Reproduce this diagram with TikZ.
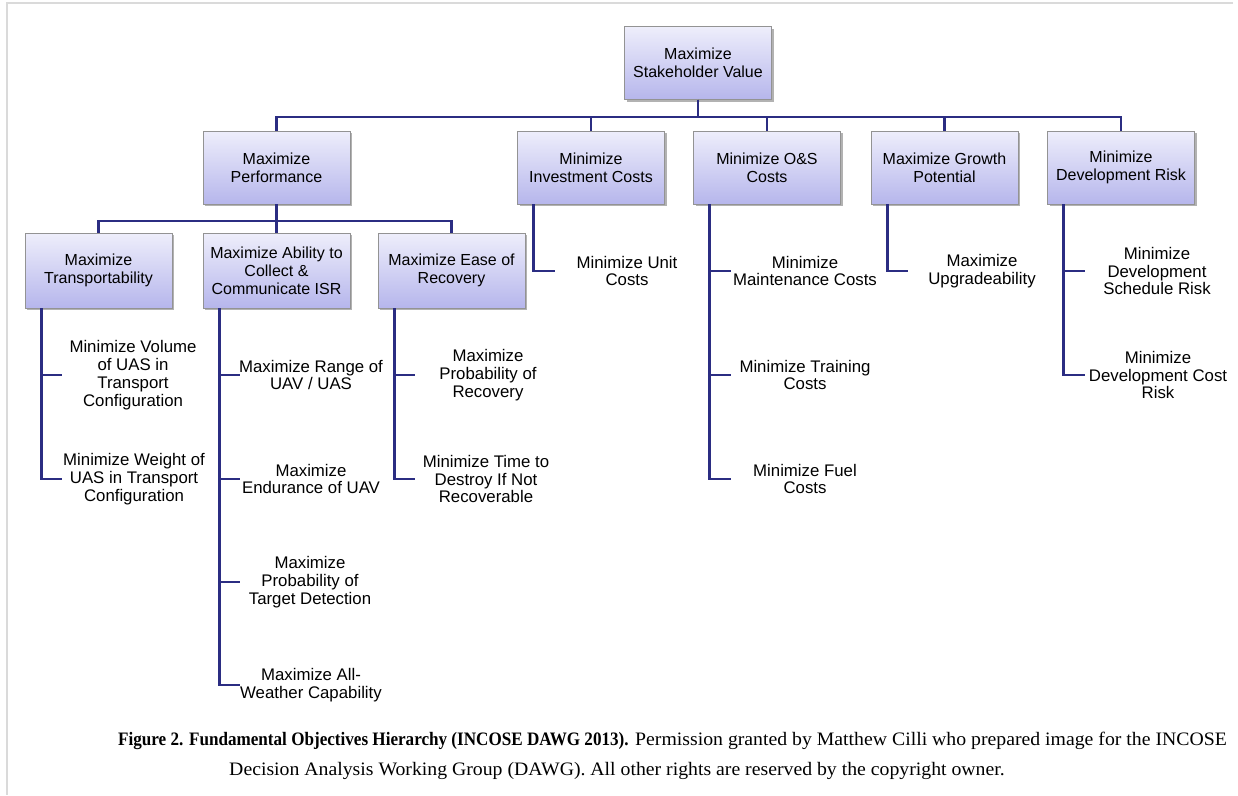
\documentclass[tikz,border=0pt]{standalone}
\usepackage{fontspec}
\setmainfont{Liberation Sans}
\newfontfamily\capfont[FakeStretch=1.04]{Liberation Serif}
\newfontfamily\capboldfont[FakeStretch=0.9]{Liberation Serif}
\usetikzlibrary{shadows}
\definecolor{linkblue}{RGB}{43,45,130}
\definecolor{boxtop}{RGB}{238,238,251}
\definecolor{boxbot}{RGB}{182,182,236}
\definecolor{framegray}{RGB}{218,218,218}

\begin{document}
\begin{tikzpicture}[x=1pt,y=-1pt,
  obj/.style={draw=gray!85, line width=0.8pt, top color=boxtop, bottom color=boxbot,
    minimum width=147pt, minimum height=73pt, align=center, inner sep=2pt,
    font=\fontsize{16}{18}\selectfont,
    drop shadow={shadow xshift=2pt,shadow yshift=-2pt,opacity=0.3,fill=black}},
  leaf/.style={align=center, inner sep=0pt, font=\fontsize{16.8}{17.8}\selectfont},
  link/.style={draw=linkblue, line width=2.8pt},
  captext/.style={inner sep=0pt, font=\capfont\fontsize{19}{22}\selectfont}]
  \useasboundingbox (0,0) rectangle (1238,795);
  \draw[framegray, line width=1.5pt] (1233,3) -- (7,3) -- (7,795);

  \coordinate (bar1) at (0,117);
  \coordinate (bar2) at (0,221);

  \node[obj] (top)  at (698,63)      {Maximize\\Stakeholder Value};
  \node[obj] (perf) at (276.5,167.5) {Maximize\\Performance};
  \node[obj] (inv)  at (591,167.5)   {Minimize\\Investment Costs};
  \node[obj] (ons)  at (767,167.5)   {Minimize O\&S\\Costs};
  \node[obj] (grow) at (944.5,167.5) {Maximize Growth\\Potential};
  \node[obj] (risk) at (1121,167.5)  {Minimize\\Development Risk};

  \node[obj,minimum height=75pt] (trans) at (98.5,270.5)  {Maximize\\Transportability};
  \node[obj,minimum height=75pt] (isr)   at (276.5,270.5) {Maximize Ability to\\Collect \&\\Communicate ISR};
  \node[obj,minimum height=75pt] (recov) at (451.5,270.5) {Maximize Ease of\\Recovery};

  \node[leaf] (vol)     at (133,375)  {Minimize Volume\\of UAS in\\Transport\\Configuration};
  \node[leaf] (wgt)     at (134,479)  {Minimize Weight of\\UAS in Transport\\Configuration};
  \node[leaf] (range)   at (311,375)  {Maximize Range of\\UAV / UAS};
  \node[leaf] (endur)   at (311,479)  {Maximize\\Endurance of UAV};
  \node[leaf] (detect)  at (310,582)  {Maximize\\Probability of\\Target Detection};
  \node[leaf] (weather) at (311,685)  {Maximize All-\\Weather Capability};
  \node[leaf] (prob)    at (488,375)  {Maximize\\Probability of\\Recovery};
  \node[leaf] (time)    at (486,479)  {Minimize Time to\\Destroy If Not\\Recoverable};
  \node[leaf] (unit)    at (627,271)  {Minimize Unit\\Costs};
  \node[leaf] (maint)   at (805,271)  {Minimize\\Maintenance Costs};
  \node[leaf] (train)   at (805,375)  {Minimize Training\\Costs};
  \node[leaf] (fuel)    at (805,479)  {Minimize Fuel\\Costs};
  \node[leaf] (upgr)    at (982,271)  {Maximize\\Upgradeability};
  \node[leaf] (sched)   at (1157,271) {Minimize\\Development\\Schedule Risk};
  \node[leaf] (devcost) at (1158,375) {Minimize\\Development Cost\\Risk};

  \foreach \c in {perf,inv,ons,grow,risk}
    \draw[link] (top.south) |- (\c.north |- bar1) -- (\c.north);
  \foreach \c in {trans,isr,recov}
    \draw[link] (perf.south) |- (\c.north |- bar2) -- (\c.north);
  \foreach \b/\l in {trans/vol,trans/wgt,isr/range,isr/endur,isr/detect,isr/weather,
      recov/prob,recov/time,inv/unit,ons/maint,ons/train,ons/fuel,grow/upgr,
      risk/sched,risk/devcost}{
    \coordinate (t) at ([xshift=16.5pt]\b.south west);
    \draw[link] (t) -- (t |- \l.west) -- ++(21,0);
  }

  \node[captext,anchor=west] (cap1) at (118,741) {{\capboldfont\bfseries Figure 2. Fundamental Objectives Hierarchy (INCOSE DAWG 2013).} Permission granted by Matthew Cilli who prepared image for the INCOSE};
  \node[captext] (cap2) at (617,771) {Decision Analysis Working Group (DAWG). All other rights are reserved by the copyright owner.};
\end{tikzpicture}
\end{document}
